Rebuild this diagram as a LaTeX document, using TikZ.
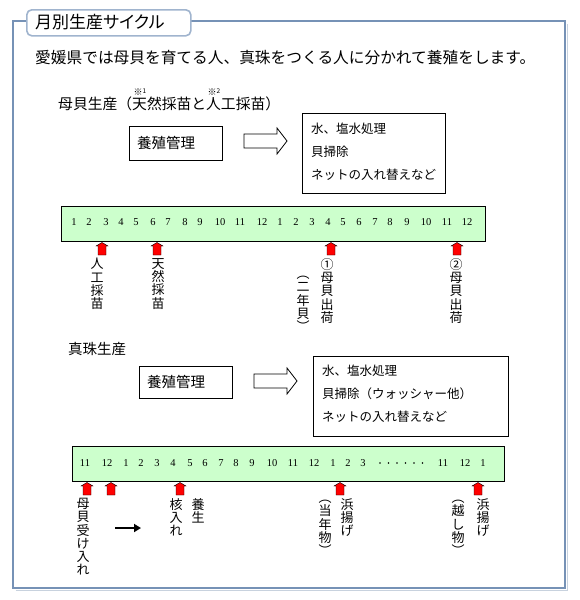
\documentclass[tikz,border=0pt]{standalone}
\usepackage{fontspec}
\setmainfont{Noto Sans CJK JP}
\newfontfamily\jp[RawFeature=+palt]{Noto Sans CJK JP}
\newfontfamily\jpv{Noto Sans CJK JP}
\newfontfamily\numf{Liberation Serif}
\usetikzlibrary{arrows.meta}
\definecolor{framecol}{RGB}{118,146,182}
\definecolor{shadowcol}{RGB}{200,210,222}
\definecolor{tabcol}{RGB}{160,180,206}
\definecolor{barfill}{RGB}{204,255,204}
\tikzset{
  frameline/.style={draw=framecol, line width=2pt},
  tabbox/.style={draw=tabcol, line width=1.6pt, fill=white, rounded corners=5pt},
  plainbox/.style={draw=black, line width=0.8pt, fill=white},
  barbox/.style={draw=black, line width=1pt, fill=barfill},
  num/.style={font=\numf\fontsize{10.5}{10.5}\selectfont, inner sep=0pt},
  vlabel/.style={anchor=north, align=center, inner sep=0pt, font=\jpv\fontsize{13}{13.3}\selectfont},
  boxtext/.style={anchor=north west, align=left, inner sep=0pt, font=\jpv\fontsize{12.5}{23}\selectfont},
  hollow/.style={draw=black, line width=0.8pt, fill=white},
  redup/.style={draw=black, line width=0.4pt, fill=red},
}
\newcommand{\redarrow}[2]{%
  \draw[redup] (#1-4,#2+13)--(#1-4,#2+4)--(#1-6,#2+4)--(#1,#2+0.5)--(#1+6,#2+4)--(#1+4,#2+4)--(#1+4,#2+13)--cycle;}
\newcommand{\hollowarrow}[3]{% x0 x1 ymid
  \draw[hollow] (#1,#3-7)--(#2-10,#3-7)--(#2-10,#3-13)--(#2,#3)--(#2-10,#3+13)--(#2-10,#3+7)--(#1,#3+7)--cycle;}
\newcommand{\kome}[1]{\makebox[0pt][l]{\hspace{0.1em}\raisebox{0.95em}{\fontsize{9}{9}\selectfont ※\raisebox{0.25em}{\fontsize{6.5}{6.5}\selectfont #1}}}}
\begin{document}
\begin{tikzpicture}[x=1pt,y=-1pt]
\useasboundingbox (0,0) rectangle (580,600);
\fill[white] (0,0) rectangle (580,600);
% frame
\draw[shadowcol, line width=1.2pt] (15.5,590.5) -- (567.5,590.5) -- (567.5,23.5);
\draw[frameline] (13,21) rectangle (565,588);
\node[tabbox, minimum width=164pt, minimum height=26pt, anchor=north west, inner sep=0pt] (tab) at (26,9) {};
\node[anchor=west, inner sep=0pt, font=\jp\fontsize{17}{17}\selectfont] (title) at (35,22) {月別生産サイクル};
\node[anchor=west, inner sep=0pt, font=\jpv\fontsize{15.7}{15.7}\selectfont] (intro) at (35,58) {愛媛県では母貝を育てる人、真珠をつくる人に分かれて養殖をします。};
% section 1
\node[anchor=west, inner sep=0pt, font=\jpv\fontsize{14.8}{14.8}\selectfont] (sec1) at (58,100)
  {母貝生産（\kome{1}天然採苗と\kome{2}人工採苗）};
\node[plainbox, anchor=north west, minimum width=93pt, minimum height=34pt, inner sep=0pt] (b1) at (129,126) {};
\node[anchor=west, inner sep=0pt, font=\jpv\fontsize{14.5}{14.5}\selectfont] (b1t) at (137,143) {養殖管理};
\hollowarrow{244}{287}{141}
\node[plainbox, anchor=north west, minimum width=143pt, minimum height=80pt, inner sep=0pt] (b2) at (302,113) {};
\node[boxtext] (b2t) at (311,123) {水、塩水処理\\貝掃除\\ネットの入れ替えなど};
\node[barbox, anchor=north west, minimum width=424pt, minimum height=35pt, inner sep=0pt] (bar1) at (61,206) {};
\foreach \x/\n in {74/1, 89/2, 106/3, 121/4, 136/5, 153/6, 168/7, 185/8, 200/9, 220/10, 240/11, 262/12, 280/1, 296/2, 312/3, 328/4, 343/5, 359/6, 375/7, 390/8, 407/9, 426/10, 447/11, 467/12}
  {\node[num] at (\x,222) {\n};}
\foreach \x in {102,157,331,457} {\redarrow{\x}{242}}
\node[vlabel] (l1) at (97,258) {人\\工\\採\\苗};
\node[vlabel] (l2) at (158,258) {天\\然\\採\\苗};
\node[vlabel] (l3) at (327,258) {①\\母\\貝\\出\\荷};
\node[vlabel] (l4) at (303,276) {︵\\二\\年\\貝\\︶};
\node[vlabel] (l5) at (456,258) {②\\母\\貝\\出\\荷};
% section 2
\node[anchor=west, inner sep=0pt, font=\jpv\fontsize{14.5}{14.5}\selectfont] (sec2) at (68,349) {真珠生産};
\node[plainbox, anchor=north west, minimum width=93pt, minimum height=32pt, inner sep=0pt] (b3) at (139,366) {};
\node[anchor=west, inner sep=0pt, font=\jpv\fontsize{14.5}{14.5}\selectfont] (b3t) at (147,382) {養殖管理};
\hollowarrow{254}{297}{381}
\node[plainbox, anchor=north west, minimum width=195pt, minimum height=80pt, inner sep=0pt] (b4) at (313,356) {};
\node[boxtext] (b4t) at (322,365) {水、塩水処理\\貝掃除（ウォッシャー他）\\ネットの入れ替えなど};
\node[barbox, anchor=north west, minimum width=432pt, minimum height=35pt, inner sep=0pt] (bar2) at (72,446) {};
\foreach \x/\n in {85/11, 107/12, 126/1, 141/2, 157/3, 173/4, 190/5, 205/6, 221/7, 236/8, 252/9, 272/10, 293/11, 314/12, 333/1, 348/2, 363/3, 443/11, 465/12, 483/1}
  {\node[num] at (\x,463) {\n};}
\foreach \x in {380,388.5,397,405.5,414,422.5}
  {\fill (\x,463) circle (0.9pt);}
\foreach \x in {87,111,180,340,478} {\redarrow{\x}{482}}
\node[vlabel] (m1) at (83,498) {母\\貝\\受\\け\\入\\れ};
\coordinate (ka) at (115,528);
\coordinate (kb) at (141,528);
\draw[line width=2.2pt, -{Triangle[length=7pt,width=8pt]}] (ka) -- (kb);
\node[vlabel] (m2) at (176,498) {核\\入\\れ};
\node[vlabel] (m3) at (198,498) {養\\生};
\node[vlabel] (m4) at (325,500) {︵\\当\\年\\物\\︶};
\node[vlabel] (m5) at (347,498) {浜\\揚\\げ};
\node[vlabel] (m6) at (458,500) {︵\\越\\し\\物\\︶};
\node[vlabel] (m7) at (483,498) {浜\\揚\\げ};
\end{tikzpicture}
\end{document}
